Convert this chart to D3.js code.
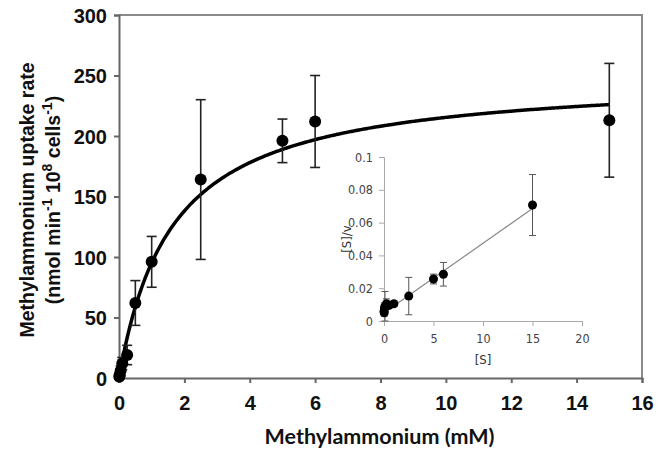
<!DOCTYPE html>
<html>
<head>
<meta charset="utf-8">
<script src="https://cdn.jsdelivr.net/npm/d3@7"></script>
<style>
  body { margin: 0; background: #fff; }
  svg { display: block; }
</style>
</head>
<body>
<div id="chart"></div>
<script>
// substrate concentrations (mM)
var conc = [0.01, 0.02, 0.05, 0.1, 0.25, 0.5, 1, 2.5, 5, 6, 15];
// uptake rate and error
var rate = [1, 2.5, 6, 12, 19, 62, 96, 164, 196, 212, 213];
var rateErr = [1, 2, 4, 5, 8, 18.5, 21, 66, 18, 38, 47];
// hanes-woolf inset: [S]/v and error
var sv = [0.006, 0.005, 0.008, 0.009, 0.0105, 0.0095, 0.0105, 0.0152, 0.0256, 0.0285, 0.0707];
var svErr = [0.002, 0.002, 0.003, 0.009, 0.003, 0.002, 0.0015, 0.0114, 0.003, 0.0072, 0.0186];

// fitted michaelis-menten params and inset regression
var vmax = 250.5;
var km = 1.63;
var hwSlope = 0.00424;
var hwIntercept = 0.005;

var xTicks = [0, 2, 4, 6, 8, 10, 12, 14, 16];
var yTicks = [0, 50, 100, 150, 200, 250, 300];
var insetXTicks = [0, 5, 10, 15, 20];
var insetYTicks = [0, 0.02, 0.04, 0.06, 0.08, 0.1];

var svgWidth = 661, svgHeight = 456;
var margin = {top: 15, left: 119, right: 19, bottom: 78};
var width = svgWidth - margin.left - margin.right;
var height = svgHeight - margin.top - margin.bottom;

var svg = d3.select("#chart").append("svg")
    .attr("width", svgWidth)
    .attr("height", svgHeight);

var chartGroup = svg.append("g")
    .attr("transform", `translate(${margin.left}, ${margin.top})`);

var x = d3.scaleLinear().domain([0, 16]).range([0, width]);
var y = d3.scaleLinear().domain([0, 300]).range([height, 0]);

// box top + right
chartGroup.append("path")
    .attr("d", `M0,0H${width}V${height}`)
    .attr("fill", "none")
    .attr("stroke", "#8a8a8a")
    .attr("stroke-width", 2);

var bold = "'Liberation Sans', Arial, sans-serif";

var xAxis = chartGroup.append("g")
    .attr("transform", `translate(0, ${height})`)
    .call(d3.axisBottom(x).tickValues(xTicks).tickSize(5).tickPadding(13).tickFormat(d3.format("d")));
var yAxis = chartGroup.append("g")
    .call(d3.axisLeft(y).tickValues(yTicks).tickSize(5).tickPadding(7).tickFormat(d3.format("d")));

[xAxis, yAxis].forEach(function(a) {
    a.select(".domain").attr("stroke", "#666").attr("stroke-width", 2);
    a.selectAll(".tick line").attr("stroke", "#666").attr("stroke-width", 2);
    a.selectAll(".tick text")
        .attr("fill", "#111")
        .style("font-family", bold)
        .style("font-weight", "bold")
        .style("font-size", "20px");
});
yAxis.selectAll(".tick text").attr("dy", "0.36em");

// michaelis-menten curve
var curveX = d3.range(0, 15.001, 0.05);
var line = d3.line()
    .x(d => x(d))
    .y(d => y(vmax * d / (km + d)))
    .curve(d3.curveBasis);
chartGroup.append("path")
    .datum(curveX)
    .attr("d", line)
    .attr("fill", "none")
    .attr("stroke", "#000")
    .attr("stroke-width", 3.5);

// error bars
var errG = chartGroup.append("g").attr("stroke", "#222").attr("stroke-width", 1.6);
conc.forEach(function(c, i) {
    var cx = x(c);
    var top = y(rate[i] + rateErr[i]);
    var bot = y(Math.max(0, rate[i] - rateErr[i]));
    errG.append("line").attr("x1", cx).attr("x2", cx).attr("y1", top).attr("y2", bot);
    errG.append("line").attr("x1", cx - 5).attr("x2", cx + 5).attr("y1", top).attr("y2", top);
    errG.append("line").attr("x1", cx - 5).attr("x2", cx + 5).attr("y1", bot).attr("y2", bot);
});

chartGroup.append("g").selectAll("circle")
    .data(conc)
    .enter()
    .append("circle")
    .attr("cx", d => x(d))
    .attr("cy", (d, i) => y(rate[i]))
    .attr("r", 6)
    .attr("fill", "#000");

// axis titles
svg.append("text")
    .attr("x", margin.left + width / 2 - 1)
    .attr("y", 444)
    .attr("text-anchor", "middle")
    .style("font-family", "Lato, 'Open Sans', sans-serif")
    .style("font-weight", "bold")
    .style("font-size", "21.5px")
    .attr("fill", "#111")
    .text("Methylammonium (mM)");

var yTitle = svg.append("text")
    .attr("transform", "translate(34, 200) rotate(-90)")
    .attr("text-anchor", "middle")
    .style("font-family", bold)
    .style("font-weight", "bold")
    .style("font-size", "19.5px")
    .attr("fill", "#111");
yTitle.append("tspan").attr("x", 0).attr("y", 0).text("Methylammonium uptake rate");
var l2 = yTitle.append("tspan").attr("x", 0).attr("y", 26);
l2.text("(nmol min");
yTitle.append("tspan").attr("dy", -8).style("font-size", "14px").text("-1");
yTitle.append("tspan").attr("dy", 8).text(" 10");
yTitle.append("tspan").attr("dy", -8).style("font-size", "14px").text("8");
yTitle.append("tspan").attr("dy", 8).text(" cells");
yTitle.append("tspan").attr("dy", -8).style("font-size", "14px").text("-1");
yTitle.append("tspan").attr("dy", 8).text(")");

// ---- inset ----
var inset = svg.append("g").attr("transform", "translate(384, 157)");
var ix = d3.scaleLinear().domain([0, 20]).range([0, 198]);
var iy = d3.scaleLinear().domain([0, 0.1]).range([164, 0]);
var thin = "'DejaVu Sans Condensed', 'DejaVu Sans', sans-serif";

var ixAxis = inset.append("g")
    .attr("transform", "translate(0, 164)")
    .call(d3.axisBottom(ix).tickValues(insetXTicks).tickSize(5).tickPadding(8));
var iyAxis = inset.append("g")
    .call(d3.axisLeft(iy).tickValues(insetYTicks).tickSize(5).tickPadding(6)
        .tickFormat(d => d === 0 ? "0" : d3.format(".2~f")(d)));
[ixAxis, iyAxis].forEach(function(a) {
    a.select(".domain").attr("stroke", "#aaa");
    a.selectAll(".tick line").attr("stroke", "#aaa");
    a.selectAll(".tick text")
        .attr("fill", "#444")
        .style("font-family", thin)
        .style("font-size", "12.5px");
});

inset.append("line")
    .attr("x1", ix(conc[0])).attr("y1", iy(hwIntercept + hwSlope * conc[0]))
    .attr("x2", ix(15)).attr("y2", iy(hwIntercept + hwSlope * 15))
    .attr("stroke", "#888")
    .attr("stroke-width", 1.2);

var ierr = inset.append("g").attr("stroke", "#555").attr("stroke-width", 1);
conc.forEach(function(c, i) {
    var cx = ix(c);
    var top = iy(sv[i] + svErr[i]);
    var bot = iy(Math.max(0, sv[i] - svErr[i]));
    ierr.append("line").attr("x1", cx).attr("x2", cx).attr("y1", top).attr("y2", bot);
    ierr.append("line").attr("x1", cx - 3.5).attr("x2", cx + 3.5).attr("y1", top).attr("y2", top);
    ierr.append("line").attr("x1", cx - 3.5).attr("x2", cx + 3.5).attr("y1", bot).attr("y2", bot);
});

inset.append("g").selectAll("circle")
    .data(conc)
    .enter()
    .append("circle")
    .attr("cx", d => ix(d))
    .attr("cy", (d, i) => iy(sv[i]))
    .attr("r", 4.5)
    .attr("fill", "#000");

inset.append("text")
    .attr("x", ix(10))
    .attr("y", 207)
    .attr("text-anchor", "middle")
    .style("font-family", thin)
    .style("font-size", "13px")
    .attr("fill", "#333")
    .text("[S]");

inset.append("text")
    .attr("transform", "translate(-33, 82) rotate(-90)")
    .attr("text-anchor", "middle")
    .style("font-family", thin)
    .style("font-size", "13px")
    .attr("fill", "#333")
    .text("[S]/v");
</script>
</body>
</html>
